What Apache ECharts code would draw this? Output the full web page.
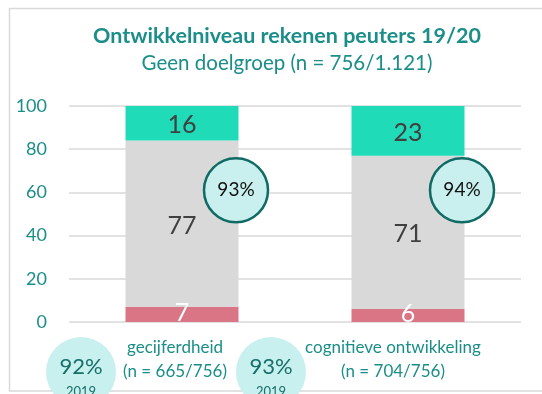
<!DOCTYPE html>
<html>
<head>
<meta charset="utf-8">
<script src="https://cdn.jsdelivr.net/npm/echarts@6/dist/echarts.min.js"></script>
<style>
  html, body { margin: 0; padding: 0; background: #fff; }
  #chart { width: 542px; height: 394px; }
</style>
</head>
<body>
<div id="chart"></div>
<script>
// Ontwikkelniveau rekenen peuters 19/20 – geen doelgroep
const categories = ['gecijferdheid', 'cognitieve ontwikkeling'];
const categoryCounts = ['(n = 665/756)', '(n = 704/756)'];
const onder = [7, 6];        // onder niveau
const op = [77, 71];         // op niveau
const boven = [16, 23];      // boven niveau
const vorigJaar = [92, 93];  // percentage op/boven niveau 2019
const vorigJaarLabel = '2019';
const yTicks = [0, 20, 40, 60, 80, 100];

const teal = '#1b8e89';
const font = 'Lato';

const opOfBoven = op.map((v, i) => v + boven[i]);

const chart = echarts.init(document.getElementById('chart'), null, { renderer: 'canvas' });

const labelPad = [[0, 14, 0, 0], [0, 30, 0, 0]];

chart.setOption({
  animation: false,
  textStyle: { fontFamily: font },
  title: {
    text: 'Ontwikkelniveau rekenen peuters 19/20',
    subtext: 'Geen doelgroep (n = 756/1.121)',
    left: 282, textAlign: 'center', top: 20, itemGap: 6,
    textStyle: { fontFamily: font, fontSize: 21.5, fontWeight: 'bold', color: teal },
    subtextStyle: { fontFamily: font, fontSize: 20.5, color: teal }
  },
  grid: { left: 69, right: 21, top: 106, bottom: 72 },
  xAxis: {
    type: 'category',
    data: categories,
    axisLine: { show: false },
    axisTick: { show: false },
    axisLabel: {
      margin: 14,
      interval: 0,
      formatter: (v, i) => '{c' + i + '|' + v + '}\n{c' + i + '|' + categoryCounts[i] + '}',
      rich: {
        c0: { fontFamily: font, fontSize: 17, color: teal, lineHeight: 24, padding: labelPad[0] },
        c1: { fontFamily: font, fontSize: 17, color: teal, lineHeight: 24, padding: labelPad[1] }
      }
    }
  },
  yAxis: {
    type: 'value',
    min: yTicks[0], max: yTicks[yTicks.length - 1], interval: yTicks[1] - yTicks[0],
    axisLine: { show: false },
    axisTick: { show: false },
    axisLabel: { margin: 22, fontFamily: font, fontSize: 18, color: teal },
    splitLine: { lineStyle: { color: '#d9d9d9', width: 1.5 } }
  },
  series: [
    {
      name: 'onder', type: 'bar', stack: 'niveau', barWidth: '50%', data: onder,
      itemStyle: { color: '#d97584' },
      label: { show: true, position: 'inside', offset: [0, -2], fontFamily: font, fontSize: 25, color: '#ffffff' }
    },
    {
      name: 'op', type: 'bar', stack: 'niveau', data: op,
      itemStyle: { color: '#d9d9d9' },
      label: { show: true, position: 'inside', offset: [0, 2], fontFamily: font, fontSize: 25, color: '#404040' }
    },
    {
      name: 'boven', type: 'bar', stack: 'niveau', data: boven,
      itemStyle: { color: '#20dbb8' },
      label: { show: true, position: 'inside', offset: [0, 2], fontFamily: font, fontSize: 25, color: '#404040' }
    },
    {
      name: 'op of boven', type: 'scatter', z: 5,
      data: opOfBoven.map((v, i) => ({ value: [i, 61], pct: v })),
      symbol: 'circle', symbolSize: 64, symbolOffset: [54, 0],
      itemStyle: { color: '#c9f0ee', borderColor: '#0f6b64', borderWidth: 2.5, opacity: 1 },
      label: {
        show: true, position: 'inside',
        formatter: p => p.data.pct + '%',
        fontFamily: font, fontSize: 19, color: '#111111'
      },
      silent: true
    }
  ],
  graphic: [
    {
      type: 'rect', silent: true, z: 0,
      shape: { x: 9.5, y: 8.5, width: 560, height: 382.5 },
      style: { fill: null, stroke: '#d9d9d9', lineWidth: 1.5 }
    },
    ...vorigJaar.map((v, i) => ({
      type: 'group', left: [46, 236][i], top: 337, z: 10,
      children: [
        { type: 'circle', shape: { cx: 34, cy: 35, r: 35 }, style: { fill: '#c8f0ee' } },
        {
          type: 'text', x: 34, y: 30,
          style: { text: v + '%', fontFamily: font, fontSize: 22, fill: '#176f69', align: 'center', verticalAlign: 'middle' }
        },
        {
          type: 'text', x: 34, y: 55,
          style: { text: vorigJaarLabel, fontFamily: font, fontSize: 13, fill: '#176f69', align: 'center', verticalAlign: 'middle' }
        }
      ]
    }))
  ]
});
</script>
</body>
</html>
